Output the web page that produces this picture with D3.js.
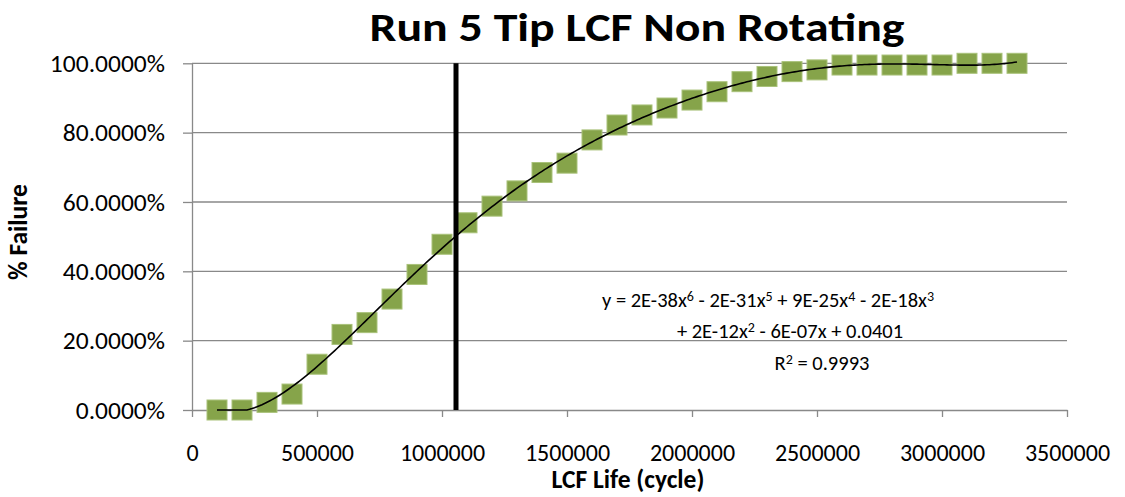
<!DOCTYPE html>
<html>
<head>
<meta charset="utf-8">
<script src="https://cdn.jsdelivr.net/npm/d3@7"></script>
<style>
  html, body { margin: 0; padding: 0; background: #fff; }
  svg { display: block; }
  text { font-family: Carlito, Calibri, Lato, sans-serif; fill: #000; }
</style>
</head>
<body>
<svg id="chart" width="1125" height="497"></svg>
<script>
// ---- data ----
const chartTitle = "Run 5 Tip LCF Non Rotating";
const xTitle = "LCF Life (cycle)";
const yTitle = "% Failure";
const cycles = [100000, 200000, 300000, 400000, 500000, 600000, 700000, 800000, 900000, 1000000,
  1100000, 1200000, 1300000, 1400000, 1500000, 1600000, 1700000, 1800000, 1900000, 2000000,
  2100000, 2200000, 2300000, 2400000, 2500000, 2600000, 2700000, 2800000, 2900000, 3000000,
  3100000, 3200000, 3300000];
const failure = [0, 0, 0.022, 0.046, 0.132, 0.218, 0.252, 0.320, 0.391, 0.478,
  0.540, 0.588, 0.632, 0.685, 0.712, 0.779, 0.822, 0.851, 0.871, 0.894,
  0.918, 0.947, 0.962, 0.976, 0.981, 0.995, 0.995, 0.995, 0.995, 0.995,
  1.0, 1.0, 1.0];
const xTicks = [0, 500000, 1000000, 1500000, 2000000, 2500000, 3000000, 3500000];
const yTicks = [0, 0.2, 0.4, 0.6, 0.8, 1.0];
const markerLineX = 1056000;
// equation label: [text, isSuperscript]
const equationLine1 = [["y = 2E-38x", 0], ["6", 1], [" - 2E-31x", 0], ["5", 1], [" + 9E-25x", 0], ["4", 1], [" - 2E-18x", 0], ["3", 1]];
const equationLine2 = [["+ 2E-12x", 0], ["2", 1], [" - 6E-07x + 0.0401", 0]];
const equationLine3 = [["R", 0], ["2", 1], [" = 0.9993", 0]];

// ---- layout ----
const svg = d3.select("#chart");
const FONT = "Carlito, Calibri, Lato, sans-serif";
const plot = { left: 192, right: 1067, top: 63.3, bottom: 410 };
const x = d3.scaleLinear().domain([0, 3500000]).range([plot.left, plot.right]);
const y = d3.scaleLinear().domain([0, 1]).range([plot.bottom, plot.top]);
const gridColor = "#898989";

// gridlines
svg.append("g").selectAll("line").data(yTicks.filter(d => d > 0)).join("line")
  .attr("x1", plot.left).attr("x2", plot.right)
  .attr("y1", d => y(d)).attr("y2", d => y(d))
  .attr("stroke", gridColor).attr("stroke-width", 1.3);

// y axis
const yAxis = d3.axisLeft(y).tickValues(yTicks).tickFormat(d3.format(".4%"))
  .tickSizeInner(9).tickSizeOuter(0).tickPadding(18);
const gy = svg.append("g").attr("transform", `translate(${plot.left},0)`).call(yAxis);
gy.select(".domain").attr("stroke", gridColor).attr("stroke-width", 1.3);
gy.selectAll(".tick line").attr("stroke", gridColor).attr("stroke-width", 1.3);
gy.selectAll(".tick text").attr("font-size", 25.5).attr("font-family", FONT).attr("fill", "#000");

// x axis
const xAxis = d3.axisBottom(x).tickValues(xTicks).tickFormat(d3.format("d"))
  .tickSizeInner(7).tickSizeOuter(0).tickPadding(27);
const gx = svg.append("g").attr("transform", `translate(0,${plot.bottom})`).call(xAxis);
gx.select(".domain").attr("stroke", gridColor).attr("stroke-width", 1.3);
gx.selectAll(".tick line").attr("stroke", gridColor).attr("stroke-width", 1.3);
gx.selectAll(".tick text").attr("font-size", 24).attr("font-family", FONT).attr("fill", "#000");

// markers
const ms = 20;
svg.append("g").selectAll("rect").data(cycles.map((c, i) => [c, failure[i]])).join("rect")
  .attr("x", d => x(d[0]) - ms / 2).attr("y", d => y(d[1]) - ms / 2)
  .attr("width", ms).attr("height", ms)
  .attr("fill", "#86a44a").attr("stroke", "#a9c27a").attr("stroke-width", 1);

// polynomial (order 6) least-squares trendline fitted to the data
function polyFit(xs, ys, deg) {
  const n = deg + 1;
  const A = Array.from({ length: n }, () => new Array(n + 1).fill(0));
  xs.forEach((xv, k) => {
    for (let i = 0; i < n; i++) {
      for (let j = 0; j < n; j++) A[i][j] += Math.pow(xv, i + j);
      A[i][n] += Math.pow(xv, i) * ys[k];
    }
  });
  for (let c = 0; c < n; c++) {
    let p = c;
    for (let r = c + 1; r < n; r++) if (Math.abs(A[r][c]) > Math.abs(A[p][c])) p = r;
    [A[c], A[p]] = [A[p], A[c]];
    for (let r = 0; r < n; r++) {
      if (r === c) continue;
      const f = A[r][c] / A[c][c];
      for (let k = c; k <= n; k++) A[r][k] -= f * A[c][k];
    }
  }
  return A.map((row, i) => row[n] / row[i]);
}
const ts = cycles.map(c => c / 1e6);
const coef = polyFit(ts, failure, 6);
const evalPoly = t => coef.reduce((s, a, i) => s + a * Math.pow(t, i), 0);
const curveX = d3.range(cycles[0], cycles[cycles.length - 1] + 1, 10000);
svg.append("path")
  .datum(curveX)
  .attr("d", d3.line().x(d => x(d)).y(d => y(Math.max(0, evalPoly(d / 1e6)))))
  .attr("fill", "none").attr("stroke", "#000").attr("stroke-width", 1.6);

// vertical reference line
svg.append("line")
  .attr("x1", x(markerLineX)).attr("x2", x(markerLineX))
  .attr("y1", y(1)).attr("y2", y(0))
  .attr("stroke", "#000").attr("stroke-width", 5);

// equation label
const eqLines = [equationLine1, equationLine2, equationLine3];
const eqPos = [[768, 307], [790, 338], [822, 370]];
eqLines.forEach((segs, i) => {
  const t = svg.append("text").attr("x", eqPos[i][0]).attr("y", eqPos[i][1])
    .attr("text-anchor", "middle").attr("font-size", 20.5).attr("font-family", FONT);
  segs.forEach(([s, sup]) => {
    t.append("tspan").attr("font-size", sup ? 14 : 20.5)
      .attr("baseline-shift", sup ? "45%" : null).text(s);
  });
});

// titles
svg.append("text").attr("x", 637).attr("y", 41).attr("text-anchor", "middle")
  .attr("font-size", 40).attr("font-weight", "bold")
  .attr("textLength", 535).attr("lengthAdjust", "spacingAndGlyphs").text(chartTitle);
svg.append("text").attr("x", 628).attr("y", 488).attr("text-anchor", "middle")
  .attr("font-size", 25.5).attr("font-weight", "bold").text(xTitle);
svg.append("text").attr("transform", "translate(27,232) rotate(-90)").attr("text-anchor", "middle")
  .attr("font-size", 25.5).attr("font-weight", "bold").text(yTitle);
</script>
</body>
</html>
